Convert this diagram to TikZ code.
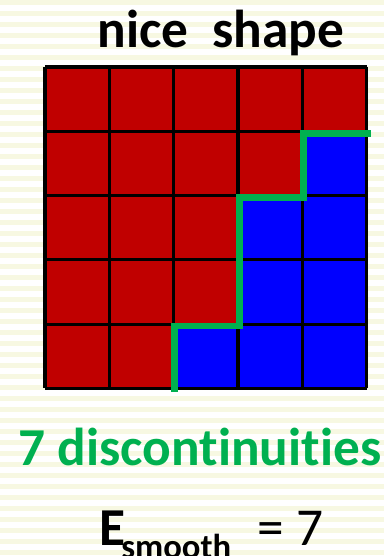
\documentclass[tikz,border=0pt]{standalone}
\usepackage{fontspec}
\setmainfont{Carlito}[Ligatures=NoCommon]
\definecolor{nsRed}{HTML}{C00000}
\definecolor{nsBlue}{HTML}{0000FF}
\definecolor{nsGreen}{HTML}{00B050}
\definecolor{nsStripe}{HTML}{F7F8E2}
\tikzset{
  ns stripe/.style={fill=nsStripe},
  ns cell/.style={draw=black, line width=2.3pt},
  ns cut/.style={draw=nsGreen, line width=5.2pt, line cap=rect, line join=miter},
  ns title/.style={font=\fontsize{40}{48}\selectfont\bfseries, inner sep=0pt, anchor=base},
  ns count/.style={font=\fontsize{40}{48}\selectfont\bfseries, text=nsGreen, inner sep=0pt, anchor=base},
  ns energy/.style={font=\fontsize{40}{48}\selectfont, inner sep=0pt, anchor=base west},
}
\begin{document}
\begin{tikzpicture}[x=0.75pt,y=-0.75pt]
\useasboundingbox(0,0)rectangle(384,556);
\fill[white](0,0)rectangle(384,556);
\foreach \y in {0,11,...,550}{\fill[ns stripe](0,\y)rectangle(384,\y+5);}
% grid: number of blue cells on the right of each row
\begin{scope}[shift={(45,67)},x=48.25pt,y=-48.2pt]
\foreach \r/\n in {0/0,1/1,2/2,3/2,4/3}{
  \foreach \c in {0,...,4}{
    \pgfmathsetmacro\isblue{\c>4-\n ? 1 : 0}
    \ifdim\isblue pt>0.5pt \def\cellcol{nsBlue}\else\def\cellcol{nsRed}\fi
    \fill[\cellcol](\c,\r)rectangle(\c+1,\r+1);}}
\foreach \i in {0,...,5}{\draw[ns cell](\i,0)--(\i,5);\draw[ns cell](0,\i)--(5,\i);}
\draw[ns cut](2.02,5)--(2.02,4.03)--(3.02,4.03)--(3.02,2.03)--(4.02,2.03)--(4.02,1.04)--(5.02,1.04);
\end{scope}
\node[ns title](title)at(221,48){nice\ \ shape};
\node[ns count](count)at(200,465){7 discontinuities};
\node[ns energy](energy)at(99,545){\bfseries E\kern-3pt\raisebox{-9.75pt}{\fontsize{26}{30}\selectfont smooth}\hspace{20pt}\mdseries= 7};
\end{tikzpicture}
\end{document}
